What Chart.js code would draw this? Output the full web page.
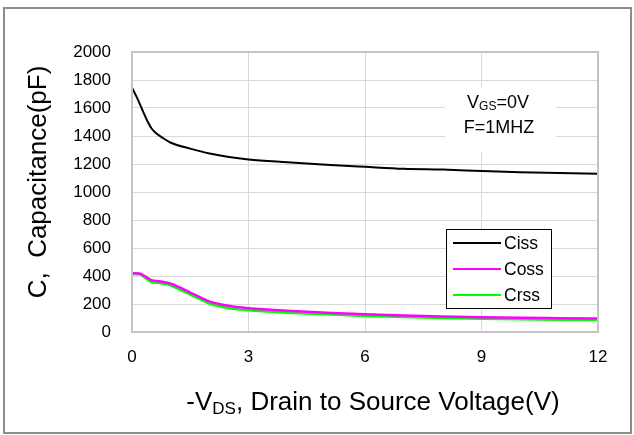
<!DOCTYPE html>
<html><head><meta charset="utf-8">
<script src="https://cdn.jsdelivr.net/npm/chart.js@4/dist/chart.umd.min.js"></script>
<style>html,body{margin:0;padding:0;background:#fff;}#wrap{width:634px;height:435px;position:relative;}</style>
</head><body><div id="wrap"><canvas id="c" width="634" height="435"></canvas></div>
<script>
// ---- data ----
const cissV = [0, 0.1, 0.2, 0.3, 0.4, 0.5, 0.6, 0.8, 1.0, 1.5, 2.0, 2.5, 3, 4, 5, 6, 7, 8, 9, 10, 11, 12];
const ciss  = [1745, 1690, 1630, 1565, 1505, 1455, 1425, 1385, 1352, 1310, 1275, 1250, 1233, 1213, 1195, 1180, 1166, 1160, 1150, 1141, 1136, 1131];
const lowV  = [0, 0.2, 0.35, 0.5, 0.7, 0.9, 1.0, 1.2, 1.5, 1.8, 2.0, 2.3, 2.6, 3, 3.5, 4, 5, 6, 7, 8, 9, 10, 11, 12];
const coss  = [420, 418, 395, 370, 362, 352, 345, 322, 282, 242, 217, 196, 182, 170, 160, 151, 138, 127, 118, 111, 105, 101, 99, 97];
const crss  = [415, 412, 385, 357, 350, 340, 332, 307, 267, 227, 202, 181, 166, 155, 146, 138, 126, 115, 107, 100, 95, 91, 88, 86];
const seriesNames = ['Ciss', 'Coss', 'Crss'];
const xTicks = [0, 3, 6, 9, 12];
const yTicks = [0, 200, 400, 600, 800, 1000, 1200, 1400, 1600, 1800, 2000];

const FONT = '"Liberation Sans", Arial, sans-serif';
const pts = (xs, ys) => xs.map((x, i) => ({x: x, y: ys[i]}));

function drawRich(ctx, segs, cx, cy) {
  let w = 0;
  segs.forEach(s => { ctx.font = s.size + 'px ' + FONT; s.w = ctx.measureText(s.t).width; w += s.w; });
  let x = cx - w / 2;
  ctx.textBaseline = 'middle';
  ctx.textAlign = 'left';
  segs.forEach(s => { ctx.font = s.size + 'px ' + FONT; ctx.fillText(s.t, x, cy + (s.dy || 0)); x += s.w; });
}

const decor = {
  id: 'decor',
  afterDraw(chart) {
    const ctx = chart.ctx, a = chart.chartArea;
    ctx.save();
    // plot frame
    ctx.strokeStyle = '#c4c4c4'; ctx.lineWidth = 2;
    ctx.strokeRect(a.left, a.top, a.right - a.left, a.bottom - a.top);
    // outer frame
    ctx.strokeStyle = '#8c8c8c'; ctx.lineWidth = 2;
    ctx.strokeRect(4, 8, 627, 425);
    ctx.fillStyle = '#000';
    // x title
    drawRich(ctx, [{t: '-V', size: 26}, {t: 'DS', size: 17, dy: 6}, {t: ', Drain to Source Voltage(V)', size: 26}], 373, 403);
    // y title
    ctx.save();
    ctx.translate(39, 182); ctx.rotate(-Math.PI / 2);
    drawRich(ctx, [{t: 'C,  Capacitance(pF)', size: 26}], 0, 0);
    ctx.restore();
    // annotation box
    ctx.fillStyle = '#fff';
    ctx.fillRect(445, 88, 111, 64);
    ctx.fillStyle = '#000';
    drawRich(ctx, [{t: 'V', size: 18}, {t: 'GS', size: 12, dy: 4}, {t: '=0V', size: 18}], 498, 103);
    drawRich(ctx, [{t: 'F=1MHZ', size: 18}], 499, 128);
    // legend
    const lx = 446, ly = 229, lw = 105, lh = 79;
    ctx.fillStyle = '#fff'; ctx.fillRect(lx, ly, lw, lh);
    ctx.strokeStyle = '#000'; ctx.lineWidth = 1;
    ctx.strokeRect(lx + 0.5, ly + 0.5, lw, lh);
    chart.data.datasets.forEach((ds, i) => {
      const y = 243 + i * 26;
      ctx.strokeStyle = ds.borderColor; ctx.lineWidth = 2;
      ctx.beginPath(); ctx.moveTo(453, y); ctx.lineTo(501, y); ctx.stroke();
      ctx.fillStyle = '#000'; ctx.font = '17.5px ' + FONT;
      ctx.textAlign = 'left'; ctx.textBaseline = 'middle';
      ctx.fillText(ds.label, 504, y + 1);
    });
    ctx.restore();
  }
};

new Chart(document.getElementById('c'), {
  type: 'line',
  data: {
    datasets: [
      {label: seriesNames[0], data: pts(cissV, ciss), borderColor: '#000000', borderWidth: 2},
      {label: seriesNames[1], data: pts(lowV, coss), borderColor: '#ff00ff', borderWidth: 2.5},
      {label: seriesNames[2], data: pts(lowV, crss), borderColor: '#00ff00', borderWidth: 2.5}
    ]
  },
  options: {
    responsive: false, animation: false, devicePixelRatio: 1,
    layout: {padding: {left: 0, top: 52, right: 36, bottom: 0}},
    elements: {point: {radius: 0}, line: {cubicInterpolationMode: 'monotone', fill: false}},
    plugins: {legend: {display: false}, tooltip: {enabled: false}},
    scales: {
      x: {
        type: 'linear', min: 0, max: 12,
        afterFit: s => { s.height = 103; },
        afterBuildTicks: s => { s.ticks = xTicks.map(v => ({value: v})); },
        grid: {color: '#d9d9d9', drawTicks: false},
        border: {color: '#c4c4c4', width: 2},
        ticks: {color: '#000', padding: 15, font: {family: FONT, size: 17}, maxRotation: 0, callback: v => String(v)}
      },
      y: {
        type: 'linear', min: 0, max: 2000,
        afterFit: s => { s.width = 132; },
        afterBuildTicks: s => { s.ticks = yTicks.map(v => ({value: v})); },
        grid: {color: '#d9d9d9', drawTicks: false},
        border: {color: '#c4c4c4', width: 2},
        ticks: {color: '#000', padding: 21, font: {family: FONT, size: 17}, callback: v => String(v)}
      }
    }
  },
  plugins: [decor]
});
</script></body></html>
